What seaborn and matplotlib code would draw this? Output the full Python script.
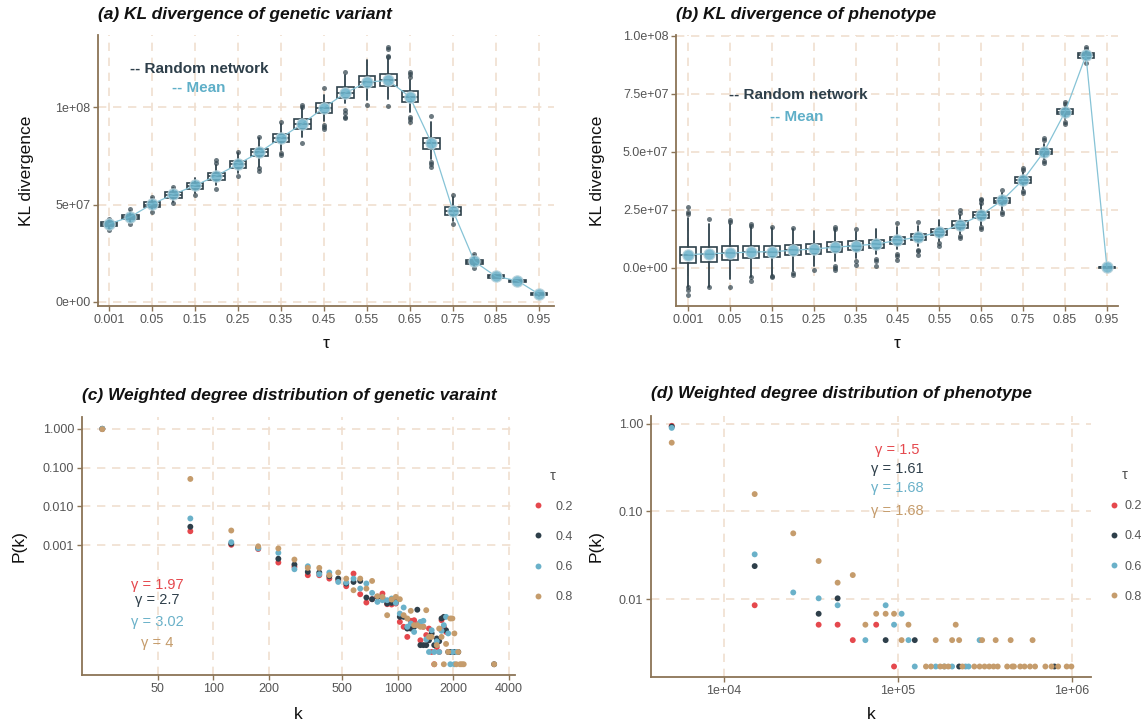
import numpy as np
import pandas as pd
import matplotlib
matplotlib.use("Agg")
import matplotlib.pyplot as plt
import seaborn as sns

# ---------------------------------------------------------------- data
tau_levels = ["0.001", "0.01", "0.05", "0.1", "0.15", "0.2", "0.25", "0.3", "0.35",
              "0.4", "0.45", "0.5", "0.55", "0.6", "0.65", "0.7", "0.75", "0.8",
              "0.85", "0.9", "0.95"]

# (a) KL divergence of genetic variant, values in units of 1e6
gv_mean = [40.0, 43.7, 50.2, 55.2, 59.8, 64.8, 70.8, 76.9, 84.3, 91.6, 99.8,
           107.4, 113.0, 113.8, 105.3, 81.7, 46.8, 20.7, 13.0, 10.8, 3.9]
gv_median = [39.8, 43.5, 50.0, 55.0, 59.7, 64.6, 70.6, 76.8, 84.2, 91.5, 99.8,
             107.5, 113.2, 114.0, 105.5, 81.5, 46.8, 20.6, 13.0, 10.8, 3.9]
gv_q1 = [38.8, 42.3, 48.7, 53.5, 58.2, 62.8, 68.8, 74.8, 82.0, 89.0, 97.3,
         104.7, 110.2, 111.0, 102.7, 78.7, 44.8, 19.6, 12.4, 10.2, 3.4]
gv_q3 = [40.8, 44.7, 51.3, 56.5, 61.2, 66.4, 72.4, 78.8, 86.4, 94.0, 102.3,
         110.3, 116.2, 117.0, 108.3, 84.3, 48.8, 21.6, 13.6, 11.4, 4.4]
gv_whis_lo = [37.5, 41.0, 47.2, 51.5, 56.0, 60.0, 66.0, 69.4, 78.0, 84.9, 93.1,
              102.0, 103.8, 104.5, 97.7, 73.2, 41.5, 17.8, 12.2, 10.1, 3.2]
gv_whis_hi = [41.8, 46.8, 53.3, 58.5, 63.5, 70.5, 76.5, 84.0, 91.5, 99.5, 106.5,
              116.5, 124.3, 125.0, 114.0, 92.6, 54.0, 23.8, 13.8, 11.4, 4.6]
gv_outliers = [[36.9, 42.3], [40.2, 47.5], [46.3, 54.0], [50.6, 59.2], [54.9],
               [58.0, 71.2, 72.9], [64.7, 77.2], [67.4, 68.6, 84.9],
               [75.5, 76.3, 92.6], [81.5, 100.0, 101.2], [88.7, 90.0, 90.9, 109.8],
               [94.3, 95.2, 96.9, 98.6, 118.3], [101.2],
               [100.7, 125.8, 126.5, 129.8, 131.2],
               [92.6, 93.8, 95.2, 115.4, 117.1, 118.3], [69.4, 70.8, 72.0, 95.5],
               [40.0, 54.9], [17.2, 24.5], [], [], []]

# (b) KL divergence of phenotype, values in units of 1e6
ph_mean = [5.7, 6.2, 6.4, 6.9, 7.0, 7.6, 8.2, 8.9, 9.6, 10.3, 11.9, 13.3, 15.5,
           18.6, 22.9, 29.1, 38.0, 50.1, 67.2, 91.7, 0.3]
ph_median = [5.6, 6.0, 6.4, 6.8, 6.9, 7.6, 8.3, 8.9, 9.6, 10.4, 11.9, 13.4, 15.6,
             18.7, 22.9, 29.0, 37.9, 50.1, 67.3, 91.7, 0.3]
ph_q1 = [2.2, 2.6, 3.6, 4.2, 4.6, 5.4, 6.2, 6.8, 7.7, 8.7, 10.3, 12.2, 14.3,
         17.3, 21.6, 27.9, 36.8, 49.1, 66.3, 90.7, 0.1]
ph_q3 = [9.2, 9.0, 9.4, 9.4, 9.4, 9.9, 10.5, 11.0, 11.6, 12.2, 13.5, 14.6, 16.8,
         20.1, 24.2, 30.1, 39.0, 51.1, 68.3, 92.7, 0.5]
ph_whis_lo = [-8.0, -8.0, -4.8, -3.7, -2.9, -1.5, 1.0, 3.0, 4.5, 6.0, 8.0, 9.5,
              11.5, 14.5, 18.5, 25.0, 34.0, 47.0, 64.0, 89.0, 0.0]
ph_whis_hi = [21.4, 18.9, 18.9, 17.5, 17.3, 16.7, 16.0, 16.5, 15.5, 16.7, 17.5,
              18.0, 20.5, 23.0, 27.5, 32.5, 41.5, 53.5, 70.0, 93.5, 0.6]
ph_outliers = [[26.2, 24.0, 23.2, -8.3, -9.5, -11.6], [21.0, -8.4],
               [20.7, 19.6, -8.0], [18.9, 18.2, -4.1, -5.6], [17.7, -3.3, -4.0],
               [17.2, -2.2, -3.2], [-0.7], [17.6, 16.8, 1.0, 0.0, -1.0],
               [17.0, 2.9, 1.4], [3.9, 2.9, 1.0], [19.2, 5.8, 5.1, 3.3],
               [19.6, 7.9, 7.2, 5.7], [10.7, 9.3], [24.8, 23.6, 13.6, 12.8],
               [29.7, 29.4, 28.2, 17.5, 17.0], [33.7, 24.0, 23.2],
               [43.0, 42.2, 33.0, 32.2], [55.9, 55.0, 46.0, 45.1],
               [71.6, 70.5, 62.8, 62.0], [95.3, 94.5, 88.2], []]

# (c) weighted degree distribution of genetic variant
deg_tau = ["0.2", "0.4", "0.6", "0.8"]
gv_k_t02 = [25, 75, 125, 175, 225, 275, 325, 375, 425, 475, 525, 575, 625, 675,
            725, 775, 825, 875, 925, 975, 1025, 1075, 1125, 1175, 1225, 1275,
            1325, 1375, 1425, 1475, 1525, 1575, 1625, 1675, 1725, 1775, 1825, 1975]
gv_p_t02 = [0.99, 2.3e-3, 1.03e-3, 8.0e-4, 3.6e-4, 2.78e-4, 1.70e-4, 1.70e-4,
            1.39e-4, 1.26e-4, 8.85e-5, 1.87e-4, 5.5e-5, 3.37e-5, 4.1e-5, 4.7e-5,
            5.73e-5, 3.05e-5, 3.0e-5, 3.17e-5, 1.07e-5, 8.0e-6, 4.4e-6, 1.14e-5,
            1.18e-5, 9.3e-6, 3.6e-6, 8.0e-6, 4.9e-6, 7.2e-6, 1.8e-6, 8.7e-7,
            2.4e-6, 1.8e-6, 1.18e-5, 8.0e-6, 5.9e-6, 1.8e-6]
gv_k_t04 = [25, 75, 125, 175, 225, 275, 325, 375, 425, 475, 525, 575, 625, 675,
            725, 775, 825, 875, 925, 975, 1025, 1075, 1125, 1175, 1225, 1275,
            1325, 1375, 1425, 1475, 1525, 1575, 1625, 1675, 1725, 1775, 1825,
            1875, 1925, 2025, 2125, 3325]
gv_p_t04 = [0.99, 3.0e-3, 1.1e-3, 8.6e-4, 4.5e-4, 3.19e-4, 2.07e-4, 1.99e-4,
            1.6e-4, 1.39e-4, 1.04e-4, 1.14e-4, 1.21e-4, 4.53e-5, 4.1e-5, 4.71e-5,
            4.44e-5, 3.17e-5, 3.3e-5, 3.5e-5, 1.44e-5, 1.44e-5, 7.2e-6, 7.2e-6,
            8.0e-6, 2.2e-5, 2.7e-6, 2.7e-6, 2.7e-6, 3.6e-6, 5.4e-6, 2.7e-6,
            4.0e-6, 3.4e-6, 1.31e-5, 1.44e-5, 6.5e-6, 1.8e-6, 1.8e-6, 1.8e-6,
            1.8e-6, 8.7e-7]
gv_k_t06 = [25, 75, 125, 175, 225, 275, 325, 375, 425, 475, 525, 575, 625, 675,
            725, 775, 825, 875, 925, 975, 1025, 1075, 1125, 1175, 1225, 1275,
            1325, 1375, 1425, 1475, 1525, 1575, 1625, 1675, 1725, 1775, 1825,
            1875, 1925, 1975, 2025, 2075]
gv_p_t06 = [1.0, 4.9e-3, 1.2e-3, 8.3e-4, 6.4e-4, 2.42e-4, 2.89e-4, 1.80e-4,
            1.99e-4, 1.14e-4, 1.10e-4, 1.39e-4, 7.7e-5, 1.04e-4, 5.97e-5, 3.5e-5,
            3.87e-5, 3.87e-5, 4.27e-5, 3.3e-5, 1.75e-5, 2.51e-5, 8.0e-6, 9.7e-6,
            5.9e-6, 8.8e-6, 1.07e-5, 1.14e-5, 3.8e-6, 1.8e-6, 6.5e-6, 1.8e-6,
            3.4e-6, 1.8e-6, 6.3e-6, 8.8e-6, 1.44e-5, 5.4e-6, 8.7e-7, 1.8e-6,
            8.7e-7, 1.8e-6]
gv_k_t08 = [25, 75, 125, 175, 225, 275, 325, 375, 425, 475, 525, 575, 625, 675,
            725, 775, 825, 875, 925, 975, 1025, 1075, 1125, 1175, 1225, 1275,
            1325, 1375, 1425, 1475, 1525, 1575, 1625, 1675, 1725, 1775, 1825,
            1875, 1925, 1975, 2025, 2075, 2125, 2175, 2225, 2275, 3325]
gv_p_t08 = [0.97, 5.1e-2, 2.4e-3, 9.4e-4, 8.3e-4, 4.3e-4, 2.62e-4, 2.62e-4,
            1.7e-4, 1.99e-4, 1.39e-4, 6.98e-5, 1.39e-4, 7.7e-5, 1.21e-4, 4.9e-5,
            4.7e-5, 1.59e-5, 4.02e-5, 4.71e-5, 4.1e-5, 1.59e-5, 1.31e-5, 2.06e-5,
            8.8e-6, 8.8e-6, 8.0e-6, 8.0e-6, 2.14e-5, 4.4e-6, 4.4e-6, 8.7e-7,
            2.7e-6, 7.2e-6, 4.4e-6, 8.7e-7, 2.9e-6, 1.8e-6, 1.31e-5, 1.31e-5,
            5.4e-6, 8.7e-7, 1.8e-6, 8.7e-7, 8.7e-7, 8.7e-7, 8.7e-7]
gv_gamma = ["1.97", "2.7", "3.02", "4"]

# (d) weighted degree distribution of phenotype
ph_k_t02 = [5000, 15000, 35000, 45000, 55000, 75000, 95000]
ph_p_t02 = [0.95, 0.0085, 0.0051, 0.0051, 0.0034, 0.0051, 0.0017]
ph_k_t04 = [5000, 15000, 35000, 45000, 85000, 125000, 225000, 795000]
ph_p_t04 = [0.93, 0.0238, 0.0068, 0.0102, 0.0034, 0.0034, 0.0017, 0.0017]
ph_k_t06 = [5000, 15000, 25000, 35000, 45000, 65000, 85000, 95000, 105000,
            115000, 125000, 165000, 185000, 205000, 245000, 255000, 295000]
ph_p_t06 = [0.90, 0.0324, 0.0119, 0.0102, 0.0085, 0.0034, 0.0085, 0.0051, 0.0068,
            0.0034, 0.0017, 0.0017, 0.0017, 0.0017, 0.0017, 0.0017, 0.0034]
ph_k_t08 = [5000, 15000, 25000, 35000, 45000, 55000, 65000, 75000, 85000, 95000,
            105000, 115000, 145000, 155000, 165000, 175000, 185000, 195000,
            205000, 215000, 225000, 235000, 275000, 295000, 305000, 315000,
            335000, 355000, 365000, 375000, 425000, 445000, 455000, 465000,
            505000, 535000, 575000, 595000, 615000, 705000, 765000, 835000,
            935000, 995000]
ph_p_t08 = [0.61, 0.158, 0.0563, 0.0272, 0.0154, 0.0188, 0.0051, 0.0068, 0.0068,
            0.0068, 0.0034, 0.0051, 0.0017, 0.0017, 0.0034, 0.0017, 0.0017, 0.0017,
            0.0034, 0.0051, 0.0034, 0.0017, 0.0017, 0.0017, 0.0034, 0.0017,
            0.0017, 0.0017, 0.0034, 0.0017, 0.0017, 0.0034, 0.0017, 0.0017,
            0.0017, 0.0017, 0.0017, 0.0034, 0.0017, 0.0017, 0.0017, 0.0017,
            0.0017, 0.0017]
ph_gamma = ["1.5", "1.61", "1.68", "1.68"]

gv_yticks = [0, 5e7, 1e8]
gv_yticklabels = ["0e+00", "5e+07", "1e+08"]
ph_yticks = [0, 2.5e7, 5e7, 7.5e7, 1e8]
ph_yticklabels = ["0.0e+00", "2.5e+07", "5.0e+07", "7.5e+07", "1.0e+08"]
gv_kticks = [50, 100, 200, 500, 1000, 2000, 4000]
gv_kticklabels = ["50", "100", "200", "500", "1000", "2000", "4000"]
gv_pticks = [0.001, 0.01, 0.1, 1.0]
gv_pticklabels = ["0.001", "0.010", "0.100", "1.000"]
ph_kticks = [1e4, 1e5, 1e6]
ph_kticklabels = ["1e+04", "1e+05", "1e+06"]
ph_pticks = [0.01, 0.1, 1.0]
ph_pticklabels = ["0.01", "0.10", "1.00"]

# ---------------------------------------------------------------- style
sns.set_theme(style="white")
plt.rcParams["font.family"] = ["Liberation Sans", "DejaVu Sans"]

RED, DARK, BLUE, TAN = "#E5484D", "#2E3F4A", "#6AB1C9", "#C59C6C"
BOX = "#2F424C"
LINE = "#86C3D6"
HALO = "#B7D2DB"
GRID = "#F0DFD0"
SPINE = "#8B7456"
TICK = "#555555"
palette = dict(zip(deg_tau, [RED, DARK, BLUE, TAN]))

W, H = 1145, 727
fig = plt.figure(figsize=(W / 100, H / 100), dpi=100)


def px_axes(left, top, right, bottom):
    return fig.add_axes([left / W, 1 - bottom / H, (right - left) / W, (bottom - top) / H])


def style_axes(ax):
    sns.despine(ax=ax)
    for side in ("left", "bottom"):
        ax.spines[side].set_color(SPINE)
        ax.spines[side].set_linewidth(1.3)
    ax.tick_params(axis="both", which="major", length=3.5, width=1.0, color=SPINE,
                   labelcolor=TICK, labelsize=9, pad=2, left=True, bottom=True)
    ax.tick_params(axis="both", which="minor", left=False, bottom=False)
    ax.grid(True, which="major", color=GRID, linestyle=(0, (5, 4)), linewidth=1.2)
    ax.grid(False, which="minor")
    ax.set_axisbelow(True)


def title(ax, text, pad):
    ax.set_title(text, loc="left", fontsize=12.5, fontweight="bold",
                 fontstyle="italic", color="#111111", pad=pad)


def kl_panel(ax, med, q1, q3, lo, hi, outl, mean):
    scale = 1e6
    pos = np.arange(len(tau_levels))
    stats = [dict(med=m * scale, q1=a * scale, q3=b * scale, whislo=l * scale,
                  whishi=h * scale, fliers=np.asarray(o, float) * scale)
             for m, a, b, l, h, o in zip(med, q1, q3, lo, hi, outl)]
    ax.bxp(stats, positions=pos, widths=0.75, patch_artist=True, showcaps=False,
           manage_ticks=False,
           boxprops=dict(facecolor="white", edgecolor=BOX, linewidth=1.2),
           medianprops=dict(color=BOX, linewidth=1.2),
           whiskerprops=dict(color=BOX, linewidth=1.3),
           flierprops=dict(marker="o", markersize=3.6, markerfacecolor=BOX,
                           markeredgecolor="none", alpha=0.7))
    means = np.asarray(mean) * scale
    sns.lineplot(x=pos, y=means, color=LINE, linewidth=0.9, ax=ax, zorder=3)
    sns.scatterplot(x=pos, y=means, s=66, color=BLUE, alpha=0.85, edgecolor=HALO,
                    linewidth=0.9, ax=ax, zorder=4)
    ax.set_xticks(pos[::2])
    ax.set_xticklabels(tau_levels[::2])
    ax.set_xlabel("τ", fontsize=12.5, color="#111111")
    ax.set_ylabel("KL divergence", fontsize=12.5, color="#111111")
    style_axes(ax)


def legend_notes(ax, x1, y1, x2, y2):
    ax.text(x1, y1, "-- Random network", transform=ax.transAxes, ha="left",
            va="center", fontsize=11, fontweight="bold", color=DARK)
    ax.text(x2, y2, "-- Mean", transform=ax.transAxes, ha="left", va="center",
            fontsize=11, fontweight="bold", color="#5FAFC8")


# (a)
ax_a = px_axes(98, 35, 554, 306)
kl_panel(ax_a, gv_median, gv_q1, gv_q3, gv_whis_lo, gv_whis_hi, gv_outliers, gv_mean)
ax_a.set_xlim(-0.51, 20.7)
ax_a.set_ylim(-2.2e6, 137.2e6)
ax_a.set_yticks(gv_yticks)
ax_a.set_yticklabels(gv_yticklabels)
ax_a.yaxis.set_label_coords(-0.14, 0.5)
ax_a.xaxis.set_label_coords(0.5, -0.11)
legend_notes(ax_a, 0.070, 0.875, 0.162, 0.804)
title(ax_a, "(a) KL divergence of genetic variant", 11.5)

# (b)
ax_b = px_axes(676, 35, 1118, 306)
kl_panel(ax_b, ph_median, ph_q1, ph_q3, ph_whis_lo, ph_whis_hi, ph_outliers, ph_mean)
ax_b.set_xlim(-0.57, 20.53)
ax_b.set_ylim(-16.4e6, 100.4e6)
ax_b.set_yticks(ph_yticks)
ax_b.set_yticklabels(ph_yticklabels)
ax_b.yaxis.set_label_coords(-0.16, 0.5)
ax_b.xaxis.set_label_coords(0.5, -0.11)
legend_notes(ax_b, 0.120, 0.779, 0.213, 0.697)
title(ax_b, "(b) KL divergence of phenotype", 11.5)


def degree_frame(ks, ps):
    return pd.concat([pd.DataFrame({"k": k, "P": p, "tau": t})
                      for t, k, p in zip(deg_tau, ks, ps)], ignore_index=True)


def degree_panel(ax, df, gammas, gx, gys, legend_x, legend_y, text_pad):
    sns.scatterplot(data=df, x="k", y="P", hue="tau", hue_order=deg_tau,
                    palette=palette, s=18, linewidth=0, ax=ax, zorder=3)
    ax.set_xscale("log")
    ax.set_yscale("log")
    ax.minorticks_off()
    ax.set_xlabel("k", fontsize=12.5, color="#111111")
    ax.set_ylabel("P(k)", fontsize=12.5, color="#111111")
    for g, gy, col in zip(gammas, gys, [RED, DARK, BLUE, TAN]):
        ax.text(gx, gy, f"γ = {g}", transform=ax.transAxes, ha="center",
                va="center", fontsize=10.5, color=col)
    sns.move_legend(ax, "upper left", bbox_to_anchor=(legend_x, legend_y),
                    title="τ", frameon=False, fontsize=9, title_fontsize=10.5,
                    borderpad=0, borderaxespad=0, handlelength=0.8,
                    handletextpad=text_pad, labelspacing=1.45, markerscale=1.0)
    leg = ax.get_legend()
    leg.get_title().set_color(TICK)
    for t in leg.get_texts():
        t.set_color(TICK)
    style_axes(ax)


# (c)
ax_c = px_axes(82, 417, 515, 675)
gv_df = degree_frame([gv_k_t02, gv_k_t04, gv_k_t06, gv_k_t08],
                     [gv_p_t02, gv_p_t04, gv_p_t06, gv_p_t08])
degree_panel(ax_c, gv_df, gv_gamma, 0.173, [0.349, 0.291, 0.205, 0.124],
             1.042, 0.80, 1.0)
ax_c.set_xlim(19.4, 4315)
ax_c.set_ylim(4.6e-7, 2.0)
ax_c.set_xticks(gv_kticks)
ax_c.set_xticklabels(gv_kticklabels)
ax_c.set_yticks(gv_pticks)
ax_c.set_yticklabels(gv_pticklabels)
ax_c.minorticks_off()
ax_c.yaxis.set_label_coords(-0.128, 0.5)
ax_c.xaxis.set_label_coords(0.5, -0.125)
title(ax_c, "(c) Weighted degree distribution of genetic varaint", 12)

# (d)
ax_d = px_axes(651, 416, 1091, 677)
ph_df = degree_frame([ph_k_t02, ph_k_t04, ph_k_t06, ph_k_t08],
                     [ph_p_t02, ph_p_t04, ph_p_t06, ph_p_t08])
degree_panel(ax_d, ph_df, ph_gamma, 0.559, [0.870, 0.797, 0.724, 0.636],
             1.040, 0.80, 0.45)
ax_d.set_xlim(3800, 1.29e6)
ax_d.set_ylim(1.29e-3, 1.23)
ax_d.set_xticks(ph_kticks)
ax_d.set_xticklabels(ph_kticklabels)
ax_d.set_yticks(ph_pticks)
ax_d.set_yticklabels(ph_pticklabels)
ax_d.minorticks_off()
ax_d.yaxis.set_label_coords(-0.108, 0.5)
ax_d.xaxis.set_label_coords(0.5, -0.115)
title(ax_d, "(d) Weighted degree distribution of phenotype", 13)

fig.savefig("out.png", dpi=100, facecolor="white")
